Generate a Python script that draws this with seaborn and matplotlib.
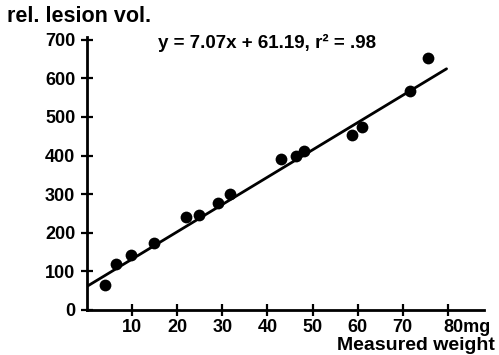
import matplotlib
matplotlib.use("Agg")
import matplotlib.pyplot as plt
import matplotlib.transforms as mtransforms
import seaborn as sns
import pandas as pd

# Data
weight = [4.0, 6.4, 9.7, 14.9, 21.9, 24.9, 29.0, 31.8, 42.9, 46.4, 48.0, 58.7, 60.9, 71.6, 75.5]
lesion = [65, 120, 142, 174, 241, 247, 277, 300, 391, 398, 412, 454, 473, 568, 653]
slope, intercept = 7.07, 61.19
fit_x = [0.0, 79.7]
x_ticks = [10, 20, 30, 40, 50, 60, 70, 80]
x_tick_labels = ["10", "20", "30", "40", "50", "60", "70", "80mg"]
y_ticks = [0, 100, 200, 300, 400, 500, 600, 700]
y_tick_labels = ["0", "100", "200", "300", "400", "500", "600", "700"]

df = pd.DataFrame({"weight": weight, "lesion": lesion})
fit = pd.DataFrame({"x": fit_x, "y": [slope * v + intercept for v in fit_x]})

sns.set_theme(style="white")
plt.rcParams['font.family'] = ['Liberation Sans', 'DejaVu Sans']
plt.rcParams['font.weight'] = 'bold'

fig = plt.figure(figsize=(4.99, 3.55), dpi=100)
ax = fig.add_axes([87/499, 45/355, (484-87)/499, (310-37)/355])

sns.lineplot(data=fit, x="x", y="y", ax=ax, color="black", linewidth=2.0)
sns.scatterplot(data=df, x="weight", y="lesion", ax=ax, color="black", s=72,
                edgecolor="black", linewidth=0, zorder=3)

ax.set_xlim(0, 88)
ax.set_ylim(0, 707)
for s in ["top", "right"]:
    ax.spines[s].set_visible(False)
for s in ["left", "bottom"]:
    ax.spines[s].set_color("black")
    ax.spines[s].set_linewidth(2.0)

ax.set_xticks(x_ticks)
ax.set_xticklabels(x_tick_labels, fontsize=13, fontweight="bold")
ax.set_yticks(y_ticks)
ax.set_yticklabels(y_tick_labels, fontsize=13, fontweight="bold")
ax.tick_params(axis="both", direction="inout", length=9, width=1.6, color="black",
               bottom=True, left=True, labelcolor="black")
ax.tick_params(axis="x", pad=2)
ax.tick_params(axis="y", pad=4)
ax.set_xlabel("")
ax.set_ylabel("")

# "80mg": the number sits on the tick, the unit trails to the right
last = ax.get_xticklabels()[-1]
last.set_ha("left")
last.set_transform(last.get_transform() +
                   mtransforms.ScaledTranslation(-5/100, 0, fig.dpi_scale_trans))

fig.text(7/499, 1 - 17/355, "rel. lesion vol.", fontsize=15.5, fontweight="bold",
         ha="left", va="center", color="black")
fig.text(267/499, 1 - 43/355, "y = 7.07x + 61.19, r\u00b2 = .98", fontsize=13.5,
         fontweight="bold", ha="center", va="center", color="black")
fig.text(495/499, 1 - 346/355, "Measured weight", fontsize=14, fontweight="bold",
         ha="right", va="center", color="black")

fig.savefig("out.png", dpi=100, facecolor="white")
